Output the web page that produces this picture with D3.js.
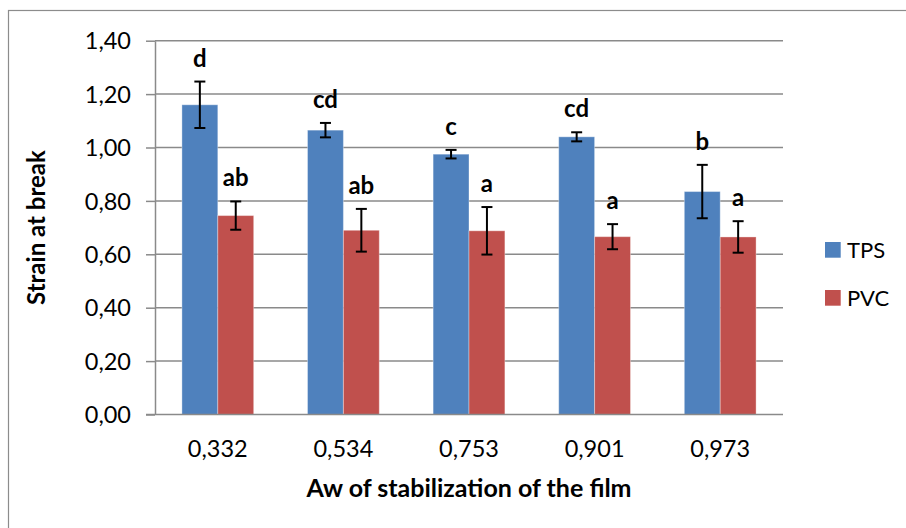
<!DOCTYPE html>
<html>
<head>
<meta charset="utf-8">
<script src="https://cdn.jsdelivr.net/npm/d3@7"></script>
<style>
  html, body { margin: 0; padding: 0; background: #fff; }
  svg { display: block; font-family: Lato, "Open Sans", sans-serif; }
</style>
</head>
<body>
<svg id="chart" width="906" height="528"></svg>
<script>
// ---- data ----
const categories = ["0,332", "0,534", "0,753", "0,901", "0,973"];
const seriesNames = ["TPS", "PVC"];
const tpsValues = [1.16, 1.065, 0.975, 1.04, 0.835];
const tpsErrors = [0.087, 0.027, 0.016, 0.017, 0.10];
const pvcValues = [0.745, 0.69, 0.688, 0.666, 0.665];
const pvcErrors = [0.053, 0.08, 0.089, 0.047, 0.059];
const tpsLetters = ["d", "cd", "c", "cd", "b"];
const pvcLetters = ["ab", "ab", "a", "a", "a"];
const yTicks = [0, 0.2, 0.4, 0.6, 0.8, 1.0, 1.2, 1.4];
const yTitle = "Strain at break";
const xTitle = "Aw of stabilization of the film";

// ---- layout ----
const colors = { TPS: "#4F81BD", PVC: "#C0504D" };
const plotLeft = 155, plotRight = 783, plotTop = 40.7, plotBottom = 414.5;
const gridColor = "#8a8a8a";

const svg = d3.select("#chart");

// outer frame
svg.append("rect")
  .attr("x", 8.5).attr("y", 10.5)
  .attr("width", 920).attr("height", 540)
  .attr("fill", "none").attr("stroke", "#8c8c8c").attr("stroke-width", 1.2);

const locale = d3.formatLocale({ decimal: ",", thousands: ".", grouping: [3], currency: ["", ""] });
const fmt = locale.format(".2f");

const y = d3.scaleLinear().domain([0, 1.4]).range([plotBottom, plotTop]);
const x = d3.scaleBand().domain(categories).range([plotLeft, plotRight])
  .paddingInner(1.5 / 3.5).paddingOuter(0.75 / 3.5);
const xs = d3.scaleBand().domain(seriesNames).range([0, x.bandwidth()]);

// gridlines
svg.append("g").selectAll("line").data(yTicks.slice(1)).join("line")
  .attr("x1", plotLeft).attr("x2", plotRight)
  .attr("y1", d => y(d)).attr("y2", d => y(d))
  .attr("stroke", gridColor).attr("stroke-width", 1.5);

// y axis
const yAxis = svg.append("g").attr("transform", `translate(${plotLeft},0)`)
  .call(d3.axisLeft(y).tickValues(yTicks).tickFormat(fmt).tickSizeInner(9).tickSizeOuter(0).tickPadding(15));
yAxis.select(".domain").attr("stroke", gridColor).attr("stroke-width", 1.5);
yAxis.selectAll(".tick line").attr("stroke", gridColor).attr("stroke-width", 1.5);
yAxis.selectAll(".tick text").attr("font-size", 23.5).attr("fill", "#000")
  .attr("font-family", "Lato, sans-serif").attr("dy", "0.35em");

// bars
const rows = categories.map((c, i) => ({
  cat: c,
  items: [
    { s: "TPS", v: tpsValues[i], e: tpsErrors[i], l: tpsLetters[i] },
    { s: "PVC", v: pvcValues[i], e: pvcErrors[i], l: pvcLetters[i] }
  ]
}));

const groups = svg.append("g").selectAll("g").data(rows).join("g")
  .attr("transform", d => `translate(${x(d.cat)},0)`);

groups.selectAll("rect").data(d => d.items).join("rect")
  .attr("x", d => xs(d.s))
  .attr("y", d => y(d.v))
  .attr("width", xs.bandwidth())
  .attr("height", d => y(0) - y(d.v))
  .attr("fill", d => colors[d.s])
  .attr("stroke", "rgba(255,255,255,0.35)").attr("stroke-width", 1);

// x axis line
svg.append("line").attr("x1", plotLeft - 9).attr("x2", plotRight)
  .attr("y1", plotBottom).attr("y2", plotBottom)
  .attr("stroke", gridColor).attr("stroke-width", 1.5);

// error bars
const cap = 5.5;
const eb = groups.selectAll("g.err").data(d => d.items).join("g").attr("class", "err")
  .attr("stroke", "#000").attr("stroke-width", 2);
eb.append("line")
  .attr("x1", d => xs(d.s) + xs.bandwidth() / 2).attr("x2", d => xs(d.s) + xs.bandwidth() / 2)
  .attr("y1", d => y(d.v + d.e)).attr("y2", d => y(d.v - d.e));
eb.append("line")
  .attr("x1", d => xs(d.s) + xs.bandwidth() / 2 - cap).attr("x2", d => xs(d.s) + xs.bandwidth() / 2 + cap)
  .attr("y1", d => y(d.v + d.e)).attr("y2", d => y(d.v + d.e));
eb.append("line")
  .attr("x1", d => xs(d.s) + xs.bandwidth() / 2 - cap).attr("x2", d => xs(d.s) + xs.bandwidth() / 2 + cap)
  .attr("y1", d => y(d.v - d.e)).attr("y2", d => y(d.v - d.e));

// letters
groups.selectAll("text.lbl").data(d => d.items).join("text").attr("class", "lbl")
  .attr("x", d => xs(d.s) + xs.bandwidth() / 2)
  .attr("y", d => y(d.v + d.e) - 15)
  .attr("text-anchor", "middle")
  .attr("font-size", 24).attr("font-weight", "bold").attr("fill", "#000")
  .text(d => d.l);

// x tick labels
svg.append("g").selectAll("text").data(categories).join("text")
  .attr("x", d => x(d) + x.bandwidth() / 2)
  .attr("y", 457)
  .attr("text-anchor", "middle")
  .attr("font-size", 23.5).attr("fill", "#000")
  .text(d => d);

// axis titles
svg.append("text")
  .attr("x", (plotLeft + plotRight) / 2).attr("y", 497)
  .attr("text-anchor", "middle")
  .attr("font-size", 25).attr("font-weight", "bold").attr("fill", "#000")
  .text(xTitle);

svg.append("text")
  .attr("transform", `translate(45,${(plotTop + plotBottom) / 2}) rotate(-90)`)
  .attr("text-anchor", "middle")
  .attr("font-size", 24).attr("font-weight", "bold").attr("fill", "#000")
  .text(yTitle);

// legend
const lg = svg.append("g").selectAll("g").data(seriesNames).join("g")
  .attr("transform", (d, i) => `translate(825,${242 + i * 48})`);
lg.append("rect").attr("width", 15.7).attr("height", 15.7).attr("fill", d => colors[d]);
lg.append("text").attr("x", 22).attr("y", 15.7)
  .attr("font-size", 22).attr("fill", "#000").text(d => d);
</script>
</body>
</html>
